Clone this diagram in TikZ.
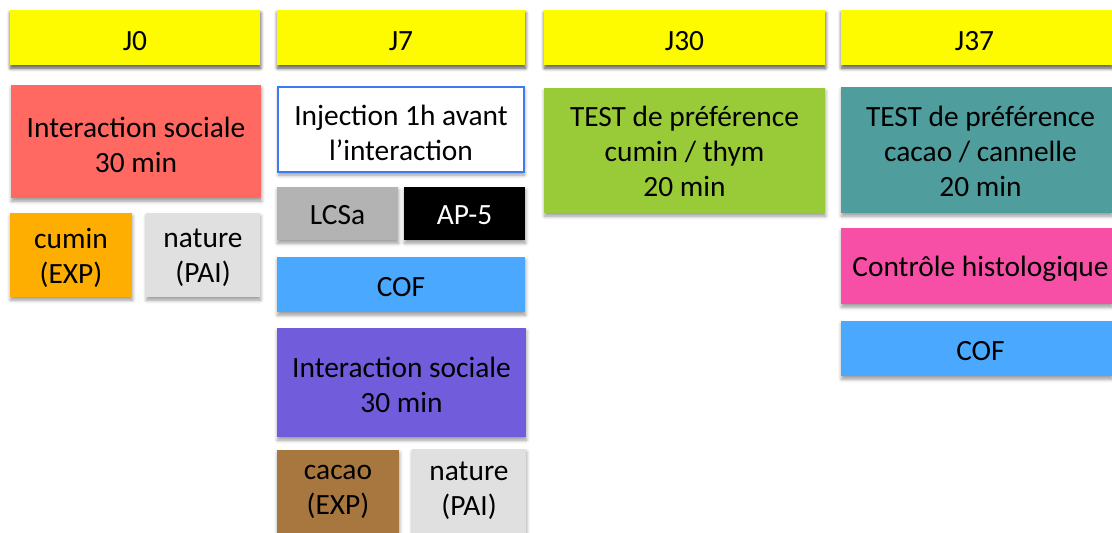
\documentclass[tikz,border=0pt]{standalone}
\usepackage{fontspec}
\setmainfont{Carlito}
\usetikzlibrary{shadows.blur}
\definecolor{cyel}{HTML}{FEFB00}
\definecolor{cred}{HTML}{FF6962}
\definecolor{corange}{HTML}{FEAE00}
\definecolor{clgray}{HTML}{E0E0E0}
\definecolor{cgray}{HTML}{B3B3B3}
\definecolor{cblue}{HTML}{4AA9FF}
\definecolor{cpurple}{HTML}{715CDB}
\definecolor{cbrown}{HTML}{A8773F}
\definecolor{cgreen}{HTML}{99CB38}
\definecolor{cteal}{HTML}{4F9D9D}
\definecolor{cpink}{HTML}{F84FA6}
\definecolor{cborder}{HTML}{3D7CF0}
% #1 name, #2 centre, #3 width, #4 height, #5 box options, #6 text shift, #7 text options, #8 text
\newcommand\cbox[8]{%
  \node[box, #5, minimum width=#3, minimum height=#4] (#1) at #2 {};
  \node[txt, #7] (#1-t) at ([yshift=#6]#1.center) {#8};}
\begin{document}
\begin{tikzpicture}[x=1pt,y=-1pt,
  box/.style={rectangle, inner sep=0pt,
    blur shadow={shadow xshift=0.5pt, shadow yshift=-3pt, shadow blur radius=3.5pt, shadow opacity=40}},
  txt/.style={inner sep=0pt, align=center, text=black, font=\fontsize{29.4}{35}\selectfont},
  hdr/.style={box, fill=cyel}]
\useasboundingbox (0,0) rectangle (1112,533);
% column J0
\cbox{j0}{(135,37.5)}{250pt}{55pt}{hdr}{-4pt}{}{J0}
\cbox{int1}{(136,141.5)}{250pt}{113pt}{fill=cred}{-3pt}{}{Interaction sociale\\30 min}
\cbox{cumin}{(71,255)}{122pt}{84pt}{fill=corange}{-3pt}{}{cumin\\(EXP)}
\cbox{nat1}{(203,255)}{114pt}{84pt}{fill=clgray}{-3pt}{}{nature\\(PAI)}
% column J7
\cbox{j7}{(401,37.5)}{248pt}{55pt}{hdr}{-4pt}{}{J7}
\cbox{inj}{(401,129.5)}{246pt}{85pt}{fill=white, draw=cborder, line width=2pt}{-3pt}{}{Injection 1h avant\\l’interaction}
\cbox{lcsa}{(337.5,213.5)}{121pt}{53pt}{fill=cgray}{-2pt}{}{LCSa}
\cbox{ap5}{(464.5,213.5)}{121pt}{53pt}{fill=black}{-2pt}{text=white}{AP-5}
\cbox{cof1}{(401,284.5)}{248pt}{55pt}{fill=cblue}{-3pt}{}{COF}
\cbox{int2}{(401.5,382.5)}{249pt}{109pt}{fill=cpurple}{-2pt}{}{Interaction sociale\\30 min}
\cbox{cacao}{(338,491.5)}{122pt}{83pt}{fill=cbrown}{0pt}{}{cacao\\(EXP)}
\cbox{nat2}{(469,491)}{114pt}{84pt}{fill=clgray}{0pt}{}{nature\\(PAI)}
% column J30
\cbox{j30}{(684.5,37.5)}{281pt}{55pt}{hdr}{-4pt}{}{J30}
\cbox{test1}{(684.5,150.5)}{281pt}{125pt}{fill=cgreen}{-1pt}{}{TEST de préférence\\cumin / thym\\20 min}
% column J37
\cbox{j37}{(976.5,37.5)}{271pt}{55pt}{hdr}{-4pt}{xshift=-2pt}{J37}
\cbox{test2}{(976.5,150)}{271pt}{126pt}{fill=cteal}{-1pt}{xshift=4pt}{TEST de préférence\\cacao / cannelle\\20 min}
\cbox{histo}{(976.5,266)}{271pt}{76pt}{fill=cpink}{-3pt}{xshift=4pt}{Contrôle histologique}
\cbox{cof2}{(976.5,348.5)}{271pt}{55pt}{fill=cblue}{-3pt}{xshift=4pt}{COF}
\end{tikzpicture}
\end{document}
